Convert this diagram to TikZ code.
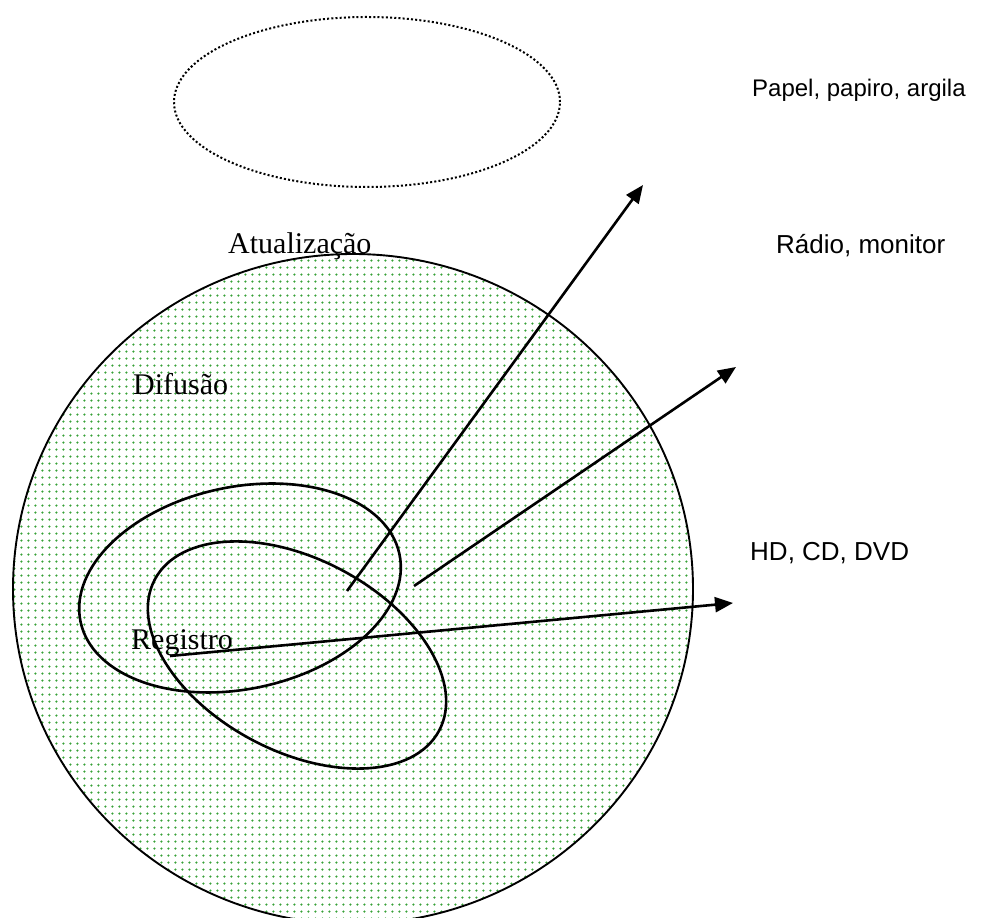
\documentclass[tikz,border=0pt]{standalone}
\usepackage{fontspec}
\setmainfont{Liberation Serif}
\newfontfamily\arialf{Liberation Sans}
\usetikzlibrary{arrows.meta,patterns.meta}
\definecolor{dotgreen}{RGB}{55,160,55}
\tikzset{
  serlabel/.style={anchor=base west,inner sep=0pt,font=\fontsize{30}{34}\selectfont},
  sanslabel/.style={anchor=base west,inner sep=0pt,font=\arialf\fontsize{26}{31}\selectfont},
  loop/.style={draw=black,line width=2.6pt},
  arr/.style={line width=2.6pt,-{Triangle[length=18pt,width=15pt]}},
}
\begin{document}
\begin{tikzpicture}[x=1pt,y=1pt]
\clip (0,0) rectangle (986,918);
\fill[white] (0,0) rectangle (986,918);
% dotted top ellipse
\draw[line width=2pt,dash pattern=on 2pt off 2.2pt] (367,816) ellipse [x radius=193,y radius=85];
% big dotted-green circle
\fill[white] (353,329) ellipse [x radius=340,y radius=335];
\path[pattern={Dots[radius=1.3pt,distance=7.4pt]},pattern color=dotgreen] (353,329) ellipse [x radius=340,y radius=335];
\draw[line width=1.9pt] (353,329) ellipse [x radius=340,y radius=335];
% inner ellipses
\draw[loop] (240,330) ellipse [x radius=163,y radius=101,rotate=12];
\draw[loop] (297,263) ellipse [x radius=161,y radius=96,rotate=-28];
% arrow ends
\coordinate (s1) at (347,327);
\coordinate (e1) at (643,733);
\coordinate (s2) at (414,332);
\coordinate (e2) at (736,551);
\coordinate (s3) at (170,262);
\coordinate (e3) at (733,315);
\draw[arr] (s1) -- (e1);
\draw[arr] (s2) -- (e2);
\draw[arr] (s3) -- (e3);
% labels
\node[serlabel] (atu) at (228,664) {Atualização};
\node[serlabel] (dif) at (133,523) {Difusão};
\node[serlabel] (reg) at (131,268) {Registro};
\node[sanslabel,font=\arialf\fontsize{24}{29}\selectfont] (pap) at (752,821) {Papel, papiro, argila};
\node[sanslabel] (rad) at (776,664) {Rádio, monitor};
\node[sanslabel] (hd) at (750,357) {HD, CD, DVD};
\end{tikzpicture}
\end{document}
